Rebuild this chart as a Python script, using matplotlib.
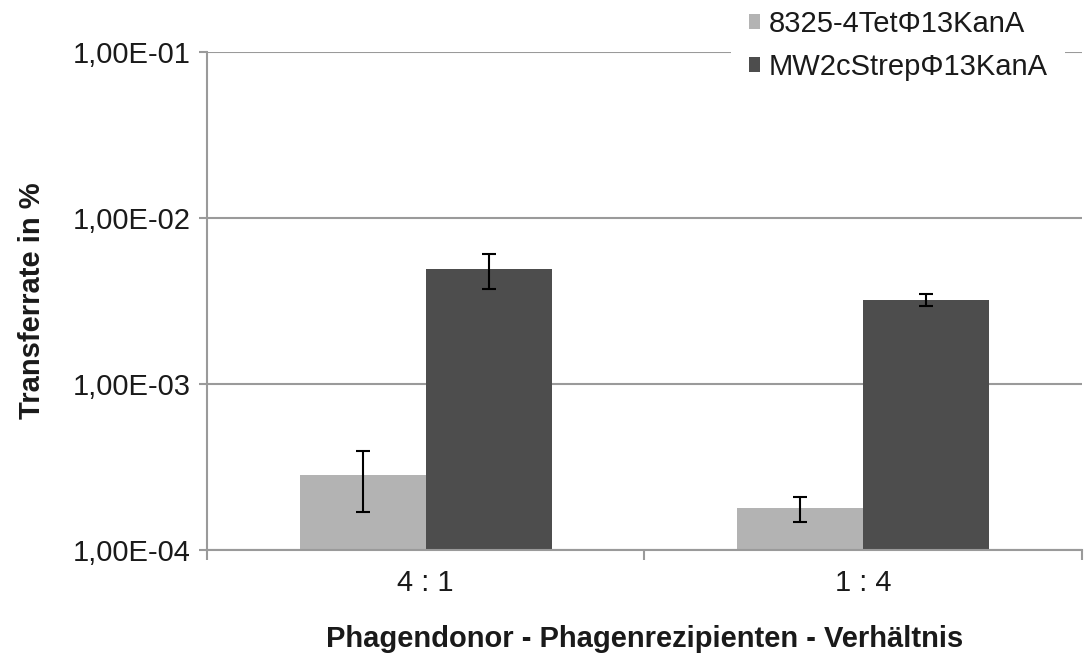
import numpy as np
import matplotlib.pyplot as plt
from matplotlib.ticker import FixedLocator, NullFormatter

plt.rcParams['font.family'] = ['Liberation Sans', 'DejaVu Sans']

# Transferraten (in %) je Verhältnis
verhaeltnisse = ["4 : 1", "1 : 4"]
stamm_8325 = [2.83e-4, 1.78e-4]
stamm_8325_err = [1.14e-4, 3.0e-5]
stamm_mw2 = [4.91e-3, 3.21e-3]
stamm_mw2_err = [1.2e-3, 2.7e-4]
serien = ["8325-4Tet\u03a613KanA", "MW2cStrep\u03a613KanA"]

grau_hell = "#b3b3b3"
grau_dunkel = "#4d4d4d"
achse = "#9a9a9a"

fig = plt.figure(figsize=(10.84, 6.54), dpi=100)
ax = fig.add_axes([0.191, 0.159, 0.807, 0.7615])

x = np.arange(len(verhaeltnisse))
b = 0.288
fehler = dict(ecolor="black", elinewidth=1.5, capsize=4.7, capthick=1.5)
ax.bar(x - b / 2, stamm_8325, b, yerr=stamm_8325_err, color=grau_hell,
       label=serien[0], error_kw=fehler, zorder=3)
ax.bar(x + b / 2, stamm_mw2, b, yerr=stamm_mw2_err, color=grau_dunkel,
       label=serien[1], error_kw=fehler, zorder=3)

ax.set_yscale("log")
ax.set_ylim(1e-4, 1e-1)
ax.set_xlim(-0.5, 1.5)
ax.set_yticks([1e-4, 1e-3, 1e-2, 1e-1])
ax.set_yticklabels(["1,00E-04", "1,00E-03", "1,00E-02", "1,00E-01"])
ax.yaxis.set_minor_locator(FixedLocator([]))
ax.set_xticks(x)
ax.set_xticklabels(verhaeltnisse)
ax.xaxis.set_minor_locator(FixedLocator([-0.5, 0.5, 1.5]))
ax.xaxis.set_minor_formatter(NullFormatter())

ax.tick_params(axis="x", which="major", length=0, pad=14, labelsize=21, colors="#1a1a1a")
ax.tick_params(axis="x", which="minor", length=7, width=1.5, color=achse)
ax.tick_params(axis="y", which="major", length=6, width=1.5, color=achse,
               labelsize=21, labelcolor="#1a1a1a", pad=6)

ax.grid(axis="y", which="major", color=achse, linewidth=1.5, zorder=0)
for s in ["top", "right"]:
    ax.spines[s].set_visible(False)
for s in ["left", "bottom"]:
    ax.spines[s].set_color(achse)
    ax.spines[s].set_linewidth(1.5)
ax.spines["bottom"].set_zorder(4)

ax.set_ylabel("Transferrate in %", fontsize=21, fontweight="bold", labelpad=19, color="#1a1a1a")
ax.set_xlabel("Phagendonor - Phagenrezipienten - Verhältnis", fontsize=21,
              fontweight="bold", labelpad=20, color="#1a1a1a")

leg = ax.legend(loc="upper left", bbox_to_anchor=(0.599, 1.12), frameon=True,
                fontsize=21, handlelength=0.4, handleheight=0.4, handletextpad=0.3,
                labelspacing=0.52, borderpad=0.6, borderaxespad=0)
leg.get_frame().set_edgecolor("none")
leg.get_frame().set_facecolor("white")
leg.get_frame().set_alpha(1)
for t in leg.get_texts():
    t.set_color("#1a1a1a")

fig.savefig("out.png", dpi=100)
